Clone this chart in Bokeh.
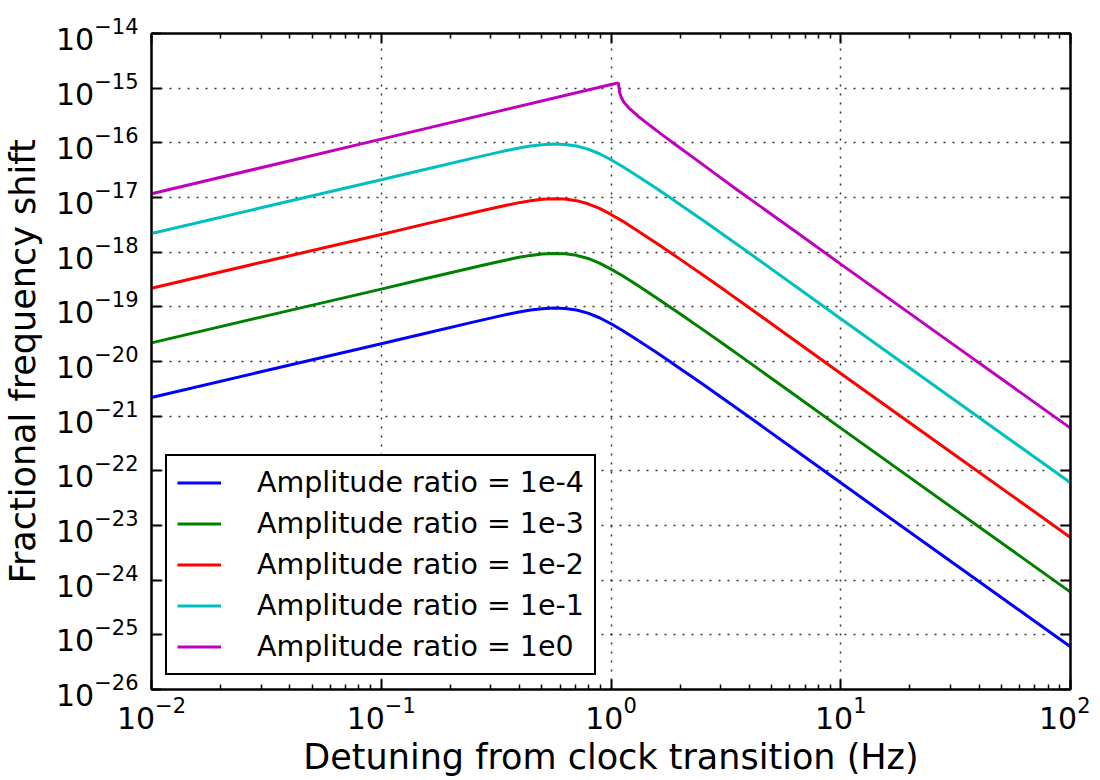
from bokeh.plotting import figure
from bokeh.models import LogAxis, Legend, LegendItem, FixedTicker, Range1d, CustomJSTickFormatter
from bokeh.embed import file_html
from bokeh.resources import INLINE

# ---- data ----
freq_hz = [0.01, 0.0316, 0.1, 0.158, 0.251, 0.316, 0.355, 0.398, 0.447, 0.501, 0.562,
           0.631, 0.708, 0.794, 0.891, 1.0, 1.122, 1.259, 1.413, 1.585, 1.778, 1.995,
           2.512, 3.162, 3.981, 6.31, 10, 31.6, 100]
shift_ratio_1e_4 = [2.19e-21, 6.84e-21, 2.11e-20, 3.33e-20, 5.25e-20, 6.56e-20, 7.29e-20,
                    8.05e-20, 8.73e-20, 9.25e-20, 9.48e-20, 9.35e-20, 8.75e-20, 7.67e-20,
                    6.31e-20, 4.90e-20, 3.70e-20, 2.72e-20, 1.98e-20, 1.44e-20, 1.04e-20,
                    7.46e-21, 3.83e-21, 1.94e-21, 9.73e-22, 2.43e-22, 6.04e-23, 1.91e-24,
                    6.04e-26]
shift_ratio_1e_3 = [2.19e-20, 6.84e-20, 2.11e-19, 3.33e-19, 5.25e-19, 6.56e-19, 7.29e-19,
                    8.05e-19, 8.73e-19, 9.25e-19, 9.48e-19, 9.35e-19, 8.75e-19, 7.67e-19,
                    6.31e-19, 4.90e-19, 3.70e-19, 2.72e-19, 1.98e-19, 1.44e-19, 1.04e-19,
                    7.46e-20, 3.83e-20, 1.94e-20, 9.73e-21, 2.43e-21, 6.04e-22, 1.91e-23,
                    6.04e-25]
shift_ratio_1e_2 = [2.19e-19, 6.84e-19, 2.11e-18, 3.33e-18, 5.25e-18, 6.56e-18, 7.29e-18,
                    8.05e-18, 8.73e-18, 9.25e-18, 9.48e-18, 9.35e-18, 8.75e-18, 7.67e-18,
                    6.31e-18, 4.90e-18, 3.70e-18, 2.72e-18, 1.98e-18, 1.44e-18, 1.04e-18,
                    7.46e-19, 3.83e-19, 1.94e-19, 9.73e-20, 2.43e-20, 6.04e-21, 1.91e-22,
                    6.04e-24]
shift_ratio_1e_1 = [2.19e-18, 6.84e-18, 2.11e-17, 3.33e-17, 5.25e-17, 6.56e-17, 7.29e-17,
                    8.05e-17, 8.73e-17, 9.25e-17, 9.48e-17, 9.35e-17, 8.75e-17, 7.67e-17,
                    6.31e-17, 4.90e-17, 3.70e-17, 2.72e-17, 1.98e-17, 1.44e-17, 1.04e-17,
                    7.46e-18, 3.83e-18, 1.94e-18, 9.73e-19, 2.43e-19, 6.04e-20, 1.91e-21,
                    6.04e-23]

freq_hz_ratio_1e0 = [0.01, 0.1, 1.0, 1.076, 1.084, 1.091, 1.109, 1.138, 1.202, 1.318, 1.479,
                     1.660, 1.905, 2.291, 2.818, 3.548, 3.981, 6.31, 10, 31.6, 100]
shift_ratio_1e0 = [1.17e-17, 1.17e-16, 1.17e-15, 1.25e-15, 1.01e-15, 8.26e-16, 6.76e-16,
                   5.52e-16, 4.25e-16, 3.02e-16, 2.07e-16, 1.43e-16, 9.35e-17, 5.30e-17,
                   2.79e-17, 1.37e-17, 9.73e-18, 2.43e-18, 6.04e-19, 1.91e-20, 6.04e-22]

labels = ["Amplitude ratio = 1e-4", "Amplitude ratio = 1e-3", "Amplitude ratio = 1e-2",
          "Amplitude ratio = 1e-1", "Amplitude ratio = 1e0"]
colors = ["#0000ff", "#008000", "#ff0000", "#00bfbf", "#bf00bf"]

x_major_ticks = [1e-2, 1e-1, 1e0, 1e1, 1e2]
x_minor_mantissas = [2, 3, 4, 5, 6, 7, 8, 9]
y_major_ticks = [1e-26, 1e-25, 1e-24, 1e-23, 1e-22, 1e-21, 1e-20, 1e-19, 1e-18,
                 1e-17, 1e-16, 1e-15, 1e-14]

FONT = "DejaVu Sans"

p = figure(width=1090, height=779, x_axis_type="log", y_axis_type="log",
           x_range=Range1d(1e-2, 1e2), y_range=Range1d(1e-26, 1e-14),
           output_backend="svg", toolbar_location=None,
           min_border_left=151, min_border_right=20, min_border_top=33, min_border_bottom=90)

bottom_axis = p.below[0]
left_axis = p.left[0]

x_minor = [m * d for d in x_major_ticks[:-1] for m in x_minor_mantissas]
xt = FixedTicker(ticks=x_major_ticks, minor_ticks=x_minor)
yt = FixedTicker(ticks=y_major_ticks, minor_ticks=[])
bottom_axis.ticker = xt
left_axis.ticker = yt

series_x = [freq_hz, freq_hz, freq_hz, freq_hz, freq_hz_ratio_1e0]
series_y = [shift_ratio_1e_4, shift_ratio_1e_3, shift_ratio_1e_2, shift_ratio_1e_1, shift_ratio_1e0]
items = []
for xs, ys, c, lab in zip(series_x, series_y, colors, labels):
    r = p.line(xs, ys, line_color=c, line_width=3)
    items.append(LegendItem(label=lab, renderers=[r]))

# extra axes (top and right), ticks only
top_axis = LogAxis(ticker=xt, formatter=CustomJSTickFormatter(code="return ''"))
right_axis = LogAxis(ticker=yt, formatter=CustomJSTickFormatter(code="return ''"))
p.add_layout(top_axis, "above")
p.add_layout(right_axis, "right")

for ax in [bottom_axis, left_axis, top_axis, right_axis]:
    ax.axis_line_width = 2
    ax.axis_line_color = "black"
    ax.major_tick_in = 10
    ax.major_tick_out = 0
    ax.minor_tick_in = 5
    ax.minor_tick_out = 0
    ax.major_tick_line_width = 2
    ax.minor_tick_line_width = 1.5
    ax.major_tick_line_color = "black"
    ax.minor_tick_line_color = "black"
    ax.major_label_text_font = FONT
    ax.major_label_text_font_size = "30px"
    ax.major_label_text_color = "black"

top_axis.major_label_standoff = 0
right_axis.major_label_standoff = 0
top_axis.major_label_text_font_size = "0px"
right_axis.major_label_text_font_size = "0px"

bottom_axis.axis_label = "Detuning from clock transition (Hz)"
left_axis.axis_label = "Fractional frequency shift"
for ax in [bottom_axis, left_axis]:
    ax.axis_label_text_font = FONT
    ax.axis_label_text_font_size = "35px"
    ax.axis_label_text_font_style = "normal"
    ax.axis_label_text_color = "black"
bottom_axis.major_label_standoff = 6
left_axis.major_label_standoff = 13
bottom_axis.axis_label_standoff = 5
left_axis.axis_label_standoff = 10

p.xgrid.grid_line_color = "black"
p.ygrid.grid_line_color = "black"
p.xgrid.grid_line_dash = "2 7"
p.ygrid.grid_line_dash = "2 7"
p.xgrid.grid_line_width = 1.5
p.ygrid.grid_line_width = 1.5
p.xgrid.grid_line_alpha = 0.8
p.ygrid.grid_line_alpha = 0.8
p.xgrid.ticker = xt
p.ygrid.ticker = yt

p.outline_line_color = "black"
p.outline_line_width = 2
p.outline_line_alpha = 1.0

legend = Legend(items=items, location="bottom_left")
legend.margin = 14
legend.padding = 10
legend.spacing = 8
legend.glyph_width = 44
legend.glyph_height = 33
legend.label_standoff = 36
legend.label_text_font = FONT
legend.label_text_font_size = "28.5px"
legend.label_text_color = "black"
legend.border_line_color = "black"
legend.border_line_width = 2
legend.border_line_alpha = 1.0
legend.background_fill_color = "white"
legend.background_fill_alpha = 1.0
p.add_layout(legend)

open("out.html", "w").write(file_html(p, INLINE))
